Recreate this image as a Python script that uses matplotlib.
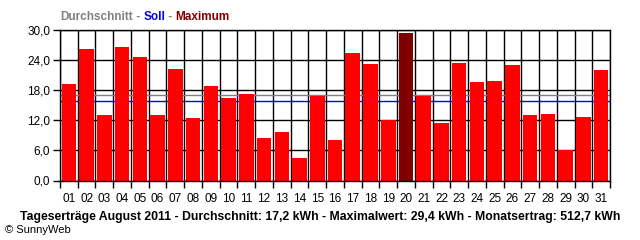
import numpy as np
import matplotlib
matplotlib.use("Agg")
import matplotlib.pyplot as plt
from matplotlib.ticker import FixedLocator

# Daily yields August 2011 (kWh)
days = [f"{d:02d}" for d in range(1, 32)]
yields = [19.2, 26.2, 13.0, 26.6, 24.6, 13.0, 22.2, 12.4, 18.8, 16.4,
          17.2, 8.4, 9.6, 4.4, 16.9, 8.0, 25.4, 23.2, 12.0, 29.4,
          16.9, 11.4, 23.4, 19.6, 19.8, 23.0, 13.0, 13.2, 6.0, 12.6, 22.0]
average = 17.0
target = 15.8
y_ticks = [0, 6, 12, 18, 24, 30]

plt.rcParams["font.family"] = ["Liberation Sans", "DejaVu Sans"]

fig = plt.figure(figsize=(6.4, 2.4), dpi=100)
ax = fig.add_axes([60 / 640, 1 - 180.5 / 240, 550 / 640, 150.5 / 240])

x = np.arange(1, len(yields) + 1)
imax = int(np.argmax(yields))
colors = ["#ff0000"] * len(yields)
colors[imax] = "#800000"

ax.bar(x, yields, width=0.82, color=colors, zorder=3)

# average and target lines (behind bars)
lw = 1.0
ax.axhline(average, color="#808080", linewidth=lw, zorder=2)
ax.axhline(target, color="#0000ff", linewidth=lw, zorder=2)

ax.set_xlim(0.5, len(yields) + 0.5)
ax.set_ylim(0, 30)

# grid: vertical lines between days, horizontal at y ticks
ax.set_xticks(x)
ax.set_xticklabels(days, fontsize=8.5)
ax.xaxis.set_minor_locator(FixedLocator(np.arange(0.5, len(yields) + 1, 1)))
ax.tick_params(axis="x", which="major", length=0, pad=9)
ax.tick_params(axis="x", which="minor", length=5, width=lw, color="black")
ax.grid(True, axis="x", which="minor", color="black", linewidth=lw, zorder=1)

ax.set_yticks(y_ticks)
ax.set_yticklabels([f"{v:.1f}".replace(".", ",") for v in y_ticks], fontsize=8.5)
ax.tick_params(axis="y", length=5, width=lw, pad=2)
ax.grid(True, axis="y", which="major", color="black", linewidth=lw, zorder=1)
ax.set_axisbelow(True)

for s in ["top", "right", "left", "bottom"]:
    ax.spines[s].set_linewidth(lw)
    ax.spines[s].set_zorder(4)

# header legend
fig.canvas.draw()
renderer = fig.canvas.get_renderer()
parts = [("Durchschnitt", "#808080"), (" - ", "#808080"), ("Soll", "#0000ff"),
         (" - ", "#808080"), ("Maximum", "#800000")]
xpos = 60
for txt, col in parts:
    t = fig.text(xpos / 640, 1 - 17 / 240, txt, color=col, fontsize=8.5,
                 fontweight="bold", ha="left", va="center")
    bb = t.get_window_extent(renderer)
    xpos += bb.width

fig.text(320 / 640, 1 - 217 / 240,
         "Tageserträge August 2011 - Durchschnitt: 17,2 kWh - Maximalwert: 29,4 kWh"
         " - Monatsertrag: 512,7 kWh",
         fontsize=8.8, fontweight="bold", ha="center", va="center")
fig.text(5 / 640, 1 - 230 / 240, "© SunnyWeb", fontsize=8, ha="left", va="center")

fig.savefig("out.png", dpi=100)
